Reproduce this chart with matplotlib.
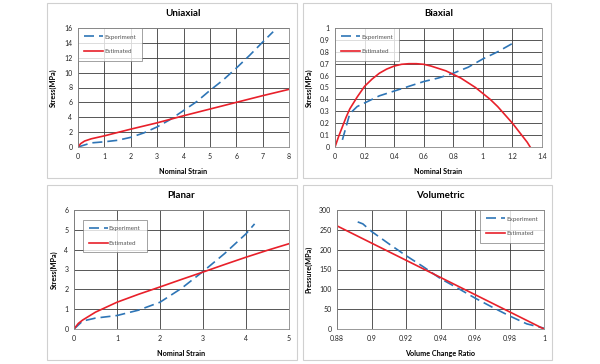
import numpy as np
import matplotlib.pyplot as plt
from matplotlib.patches import Rectangle

plt.rcParams['font.family'] = ['Lato', 'DejaVu Sans']

# Uniaxial
uni_exp_x = [0, 0.5, 1, 1.5, 2, 2.5, 3, 3.5, 4, 4.5, 5, 5.5, 6, 6.5, 7, 7.4]
uni_exp_y = [0, 0.55, 0.7, 0.9, 1.3, 1.9, 2.7, 3.7, 4.9, 6.1, 7.6, 9.0, 10.6, 12.3, 14.1, 15.5]
uni_est_x = [0, 0.1, 0.25, 0.5, 1, 2, 3, 4, 5, 6, 7, 8]
uni_est_y = [0, 0.45, 0.8, 1.1, 1.5, 2.4, 3.25, 4.2, 5.1, 6.0, 6.9, 7.75]

# Biaxial
bi_exp_x = [0.05, 0.1, 0.15, 0.2, 0.3, 0.4, 0.5, 0.6, 0.7, 0.8, 0.9, 1.0, 1.1, 1.2]
bi_exp_y = [0.06, 0.28, 0.34, 0.37, 0.43, 0.47, 0.51, 0.55, 0.58, 0.62, 0.67, 0.74, 0.80, 0.87]
bi_est_x = [0, 0.025, 0.05, 0.075, 0.1, 0.15, 0.2, 0.25, 0.3, 0.35, 0.4, 0.45, 0.5, 0.55,
            0.6, 0.65, 0.7, 0.75, 0.8, 0.85, 0.9, 0.95, 1.0, 1.05, 1.1, 1.15, 1.2, 1.25, 1.3, 1.32]
bi_est_y = [0, 0.09, 0.17, 0.25, 0.32, 0.42, 0.51, 0.57, 0.62, 0.655, 0.68, 0.695, 0.70, 0.70,
            0.695, 0.68, 0.66, 0.64, 0.61, 0.58, 0.54, 0.50, 0.45, 0.40, 0.34, 0.27, 0.20, 0.12, 0.04, 0.0]

# Planar
pl_exp_x = [0, 0.2, 0.5, 1, 1.5, 2, 2.5, 3, 3.5, 4, 4.2]
pl_exp_y = [0, 0.4, 0.55, 0.68, 0.95, 1.35, 2.05, 2.9, 3.8, 4.8, 5.3]
pl_est_x = [0, 0.1, 0.2, 0.5, 1, 1.5, 2, 2.5, 3, 3.5, 4, 4.5, 5]
pl_est_y = [0, 0.28, 0.45, 0.85, 1.35, 1.75, 2.12, 2.5, 2.87, 3.25, 3.62, 3.97, 4.3]

# Volumetric
vol_exp_x = [0.892, 0.895, 0.9, 0.91, 0.92, 0.93, 0.94, 0.95, 0.96, 0.97, 0.98, 0.99, 1.0]
vol_exp_y = [270, 265, 246, 215, 185, 157, 127, 103, 78, 55, 33, 13, 2]
vol_est_x = [0.88, 1.0]
vol_est_y = [260, 0]

blue = '#2E75B6'
red = '#E8202A'

fig = plt.figure(figsize=(6, 3.64), dpi=100)

# panel frames (pixels: x0, y0, x1, y1)
frames = [(47, 3, 297, 178), (303, 3, 551, 178), (47, 185, 297, 360), (303, 185, 552, 360)]
for x0, y0, x1, y1 in frames:
    fig.patches.append(Rectangle((x0 / 600, 1 - y1 / 364), (x1 - x0) / 600, (y1 - y0) / 364,
                                 transform=fig.transFigure, fill=False,
                                 edgecolor='#d0d0d0', linewidth=0.8))

positions = [
    [78 / 600, 1 - 147 / 364, 211 / 600, 119 / 364],
    [335 / 600, 1 - 147 / 364, 207 / 600, 119 / 364],
    [74 / 600, 1 - 329 / 364, 215 / 600, 119 / 364],
    [337 / 600, 1 - 329 / 364, 207 / 600, 119 / 364],
]

panels = [
    ("Uniaxial", uni_exp_x, uni_exp_y, uni_est_x, uni_est_y, "Nominal Strain", "Stress(MPa)",
     (0, 8), np.arange(0, 9, 1), (0, 16), np.arange(0, 17, 2)),
    ("Biaxial", bi_exp_x, bi_exp_y, bi_est_x, bi_est_y, "Nominal Strain", "Stress(MPa)",
     (0, 1.4), np.arange(0, 1.41, 0.2), (0, 1), np.arange(0, 1.01, 0.1)),
    ("Planar", pl_exp_x, pl_exp_y, pl_est_x, pl_est_y, "Nominal Strain", "Stress(MPa)",
     (0, 5), np.arange(0, 6, 1), (0, 6), np.arange(0, 7, 1)),
    ("Volumetric", vol_exp_x, vol_exp_y, vol_est_x, vol_est_y, "Volume Change Ratio", "Pressure(MPa)",
     (0.88, 1), np.arange(0.88, 1.001, 0.02), (0, 300), np.arange(0, 301, 50)),
]

legend_locs = [(0.0, 1.0, 'upper left'), (0.0, 1.0, 'upper left'),
               (0.04, 0.92, 'upper left'), (1.0, 1.0, 'upper right')]


def fmt(v):
    s = ('%.2f' % v).rstrip('0').rstrip('.')
    return s


for i, (title, ex, ey, sx, sy, xl, yl, xlim, xt, ylim, yt) in enumerate(panels):
    ax = fig.add_axes(positions[i])
    ax.plot(ex, ey, color=blue, lw=1.2, dashes=(6, 3), label='Experiment')
    ax.plot(sx, sy, color=red, lw=1.2, label='Estimated')
    ax.set_xlim(*xlim)
    ax.set_ylim(*ylim)
    ax.set_xticks(xt)
    ax.set_yticks(yt)
    ax.set_xticklabels([fmt(v) for v in xt])
    ax.set_yticklabels([fmt(v) for v in yt])
    ax.grid(True, color='#3a3a3a', lw=0.6)
    ax.set_axisbelow(True)
    ax.tick_params(labelsize=5, length=0, pad=4, colors='#222222')
    for sp in ax.spines.values():
        sp.set_color('#888888')
        sp.set_linewidth(0.6)
    ax.set_title(title, fontsize=7, fontweight='bold', pad=9)
    ax.set_xlabel(xl, fontsize=5.2, fontweight='bold', labelpad=6)
    ax.set_ylabel(yl, fontsize=5.2, fontweight='bold', labelpad=5)
    bx, by, loc = legend_locs[i]
    leg = ax.legend(loc=loc, bbox_to_anchor=(bx, by), fontsize=4.5, frameon=True,
                    fancybox=False, borderaxespad=0.0, handlelength=3.0,
                    labelspacing=1.5, borderpad=1.0, handletextpad=0.2)
    leg.get_frame().set_edgecolor('#777777')
    leg.get_frame().set_linewidth(0.6)
    for t in leg.get_texts():
        t.set_color('#555555')

fig.savefig('out.png', dpi=100)
